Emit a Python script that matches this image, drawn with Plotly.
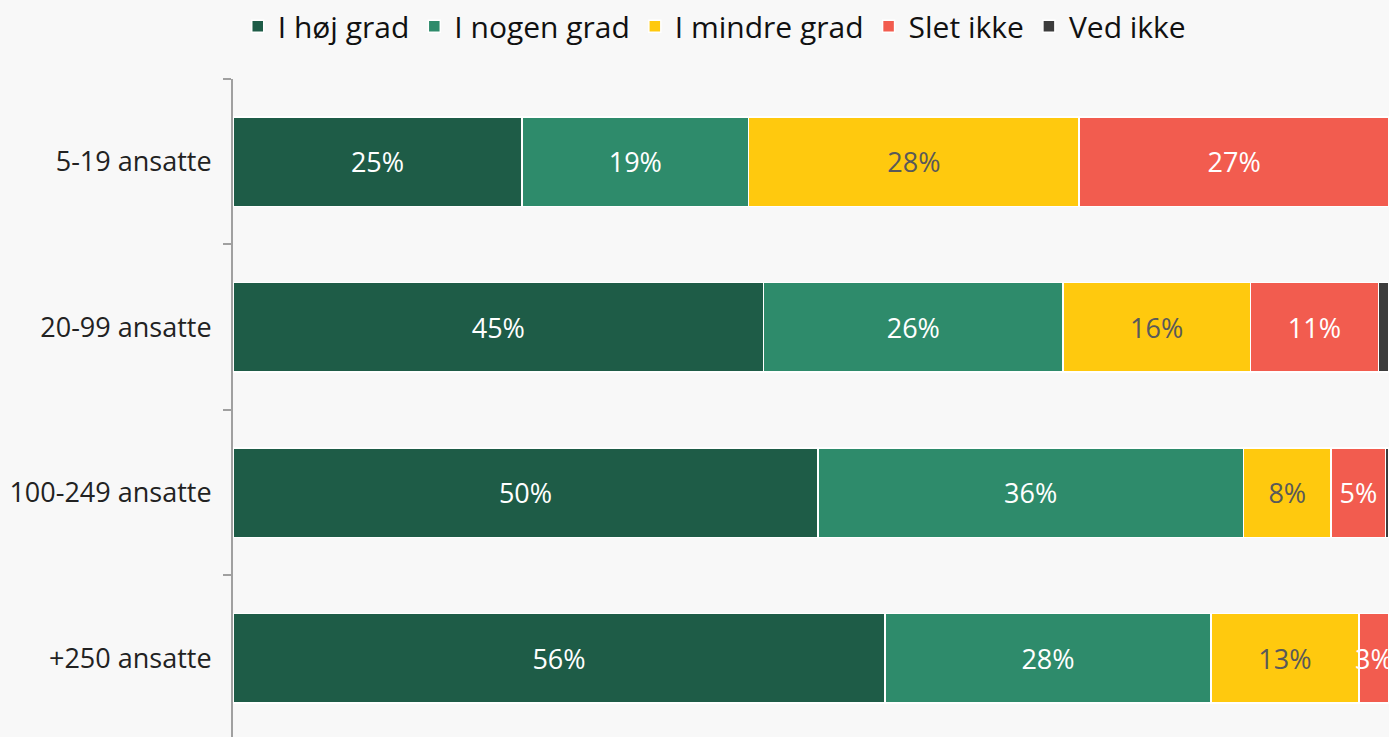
import plotly.graph_objects as go

categories = ["5-19 ansatte", "20-99 ansatte", "100-249 ansatte", "+250 ansatte"]

series_names = ["I høj grad", "I nogen grad", "I mindre grad", "Slet ikke", "Ved ikke"]

hoej = [25.0, 45.9, 50.6, 56.4]
nogen = [19.6, 25.9, 36.8, 28.2]
mindre = [28.6, 16.2, 7.6, 12.8]
slet = [26.8, 11.1, 4.7, 2.6]
ved = [0.0, 0.9, 0.3, 0.0]

hoej_labels = ["25%", "45%", "50%", "56%"]
nogen_labels = ["19%", "26%", "36%", "28%"]
mindre_labels = ["28%", "16%", "8%", "13%"]
slet_labels = ["27%", "11%", "5%", "3%"]
ved_labels = ["", "", "", ""]

colors = ["#1e5c47", "#2e8b6b", "#ffc90e", "#f25c4f", "#3c3c3c"]
text_colors = ["white", "white", "#595959", "white", "white"]

values = [hoej, nogen, mindre, slet, ved]
labels = [hoej_labels, nogen_labels, mindre_labels, slet_labels, ved_labels]

FONT = "Open Sans"

fig = go.Figure()
for name, vals, labs, col, tcol in zip(series_names, values, labels, colors, text_colors):
    fig.add_trace(go.Bar(
        y=categories, x=vals, name=name, orientation="h",
        marker=dict(color=col, line=dict(color="white", width=1.5)),
        text=labs, textposition="inside", insidetextanchor="middle", textangle=0,
        textfont=dict(color=tcol, size=27, family=FONT),
        cliponaxis=True,
    ))

fig.update_layout(
    barmode="stack",
    width=1389, height=737,
    margin=dict(l=233, r=0, t=77, b=0),
    paper_bgcolor="#f8f8f8", plot_bgcolor="#f8f8f8",
    bargap=0.458,
    font=dict(family=FONT, color="#222222"),
    uniformtext=dict(mode="show", minsize=27),
    legend=dict(orientation="h", x=0.4163, xanchor="center", y=1.08, yanchor="middle",
                yref="paper", font=dict(size=30, color="#111111", family=FONT),
                traceorder="normal", itemwidth=30),
    xaxis=dict(range=[0, 100], visible=False, showgrid=False, zeroline=False, fixedrange=True),
    yaxis=dict(type="category", range=[3.476, -0.5], showgrid=False, zeroline=False,
               showline=True, linecolor="#a0a0a0", linewidth=2,
               ticks="outside", tickson="boundaries", ticklen=8, tickcolor="#a0a0a0", tickwidth=2,
               tickfont=dict(size=27, color="#222222", family=FONT), ticksuffix="  "),
)

fig.write_html(
    "out.html",
    config={"displayModeBar": False},
    post_script="document.body.style.margin='0';document.body.style.background='#f8f8f8';document.body.style.overflow='hidden';",
)
